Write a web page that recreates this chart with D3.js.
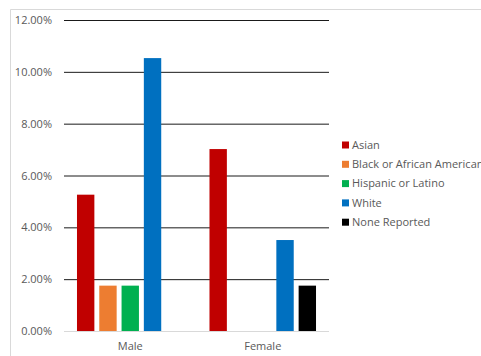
<!DOCTYPE html>
<html>
<head>
<meta charset="utf-8">
<script src="https://cdn.jsdelivr.net/npm/d3@7"></script>
<style>
  html, body { margin: 0; padding: 0; background: #fff; }
  svg { display: block; }
  text { font-family: "Open Sans", "DejaVu Sans", sans-serif; fill: #595959; }
</style>
</head>
<body>
<svg id="chart" width="481" height="356"></svg>
<script>
// Share of respondents by gender and race/ethnicity
const categories = ["Male", "Female"];
const seriesNames = ["Asian", "Black or African American", "Hispanic or Latino", "White", "None Reported"];
const seriesColors = ["#C00000", "#ED7D31", "#00B050", "#0070C0", "#000000"];
const asianValues = [0.0526, 0.0702];
const blackValues = [0.0175, 0];
const hispanicValues = [0.0175, 0];
const whiteValues = [0.1053, 0.0351];
const noneValues = [0, 0.0175];
const yTicks = [0, 0.02, 0.04, 0.06, 0.08, 0.10, 0.12];

const seriesValues = [asianValues, blackValues, hispanicValues, whiteValues, noneValues];

const svg = d3.select("#chart");
const plot = { left: 64, right: 329, top: 20, bottom: 331 };

// Outer chart frame
svg.append("path")
  .attr("d", "M10.5,360 V9.5 H485")
  .attr("fill", "none")
  .attr("stroke", "#d9d9d9")
  .attr("stroke-width", 1);

const x0 = d3.scaleBand()
  .domain(categories)
  .range([plot.left, plot.right])
  .paddingInner(0.196)
  .paddingOuter(0.098);

const x1 = d3.scaleBand()
  .domain(seriesNames)
  .range([0, x0.bandwidth()])
  .paddingInner(0.22)
  .paddingOuter(0);

const y = d3.scaleLinear()
  .domain([0, 0.12])
  .range([plot.bottom, plot.top]);

// Horizontal gridlines
const yAxis = d3.axisLeft(y)
  .tickValues(yTicks)
  .tickSize(-(plot.right - plot.left))
  .tickPadding(12)
  .tickFormat(d3.format(".2%"));

const gy = svg.append("g")
  .attr("transform", `translate(${plot.left},0)`)
  .call(yAxis);
gy.select(".domain").remove();
gy.selectAll(".tick line")
  .attr("stroke", d => d === 0 ? "#d9d9d9" : "#1a1a1a")
  .attr("stroke-width", 1);
gy.selectAll(".tick text")
  .attr("x", -12)
  .style("font-size", "11px")
  .style("fill", "#595959");

// Bars
const groups = svg.append("g")
  .selectAll("g")
  .data(categories)
  .join("g")
  .attr("transform", d => `translate(${x0(d)},0)`);

groups.selectAll("rect")
  .data((c, ci) => seriesNames.map((s, si) => ({ s, si, v: seriesValues[si][ci] })))
  .join("rect")
  .filter(d => d.v > 0)
  .attr("x", d => x1(d.s))
  .attr("width", x1.bandwidth())
  .attr("y", d => y(d.v))
  .attr("height", d => y(0) - y(d.v))
  .attr("fill", d => seriesColors[d.si]);

// Category labels
const xAxis = d3.axisBottom(x0).tickSize(0).tickPadding(11);
const gx = svg.append("g")
  .attr("transform", `translate(0,${plot.bottom})`)
  .call(xAxis);
gx.select(".domain").remove();
gx.selectAll(".tick text")
  .style("font-size", "11px")
  .style("fill", "#595959");

// Legend
const legend = svg.append("g").attr("transform", "translate(342,145)");
const items = legend.selectAll("g")
  .data(seriesNames)
  .join("g")
  .attr("transform", (d, i) => `translate(0,${i * 19.3})`);
items.append("rect")
  .attr("x", 0).attr("y", -3.5)
  .attr("width", 7).attr("height", 7)
  .attr("fill", (d, i) => seriesColors[i]);
items.append("text")
  .attr("x", 10).attr("y", 0)
  .attr("dy", "0.35em")
  .style("font-size", "11px")
  .text(d => d);
</script>
</body>
</html>
